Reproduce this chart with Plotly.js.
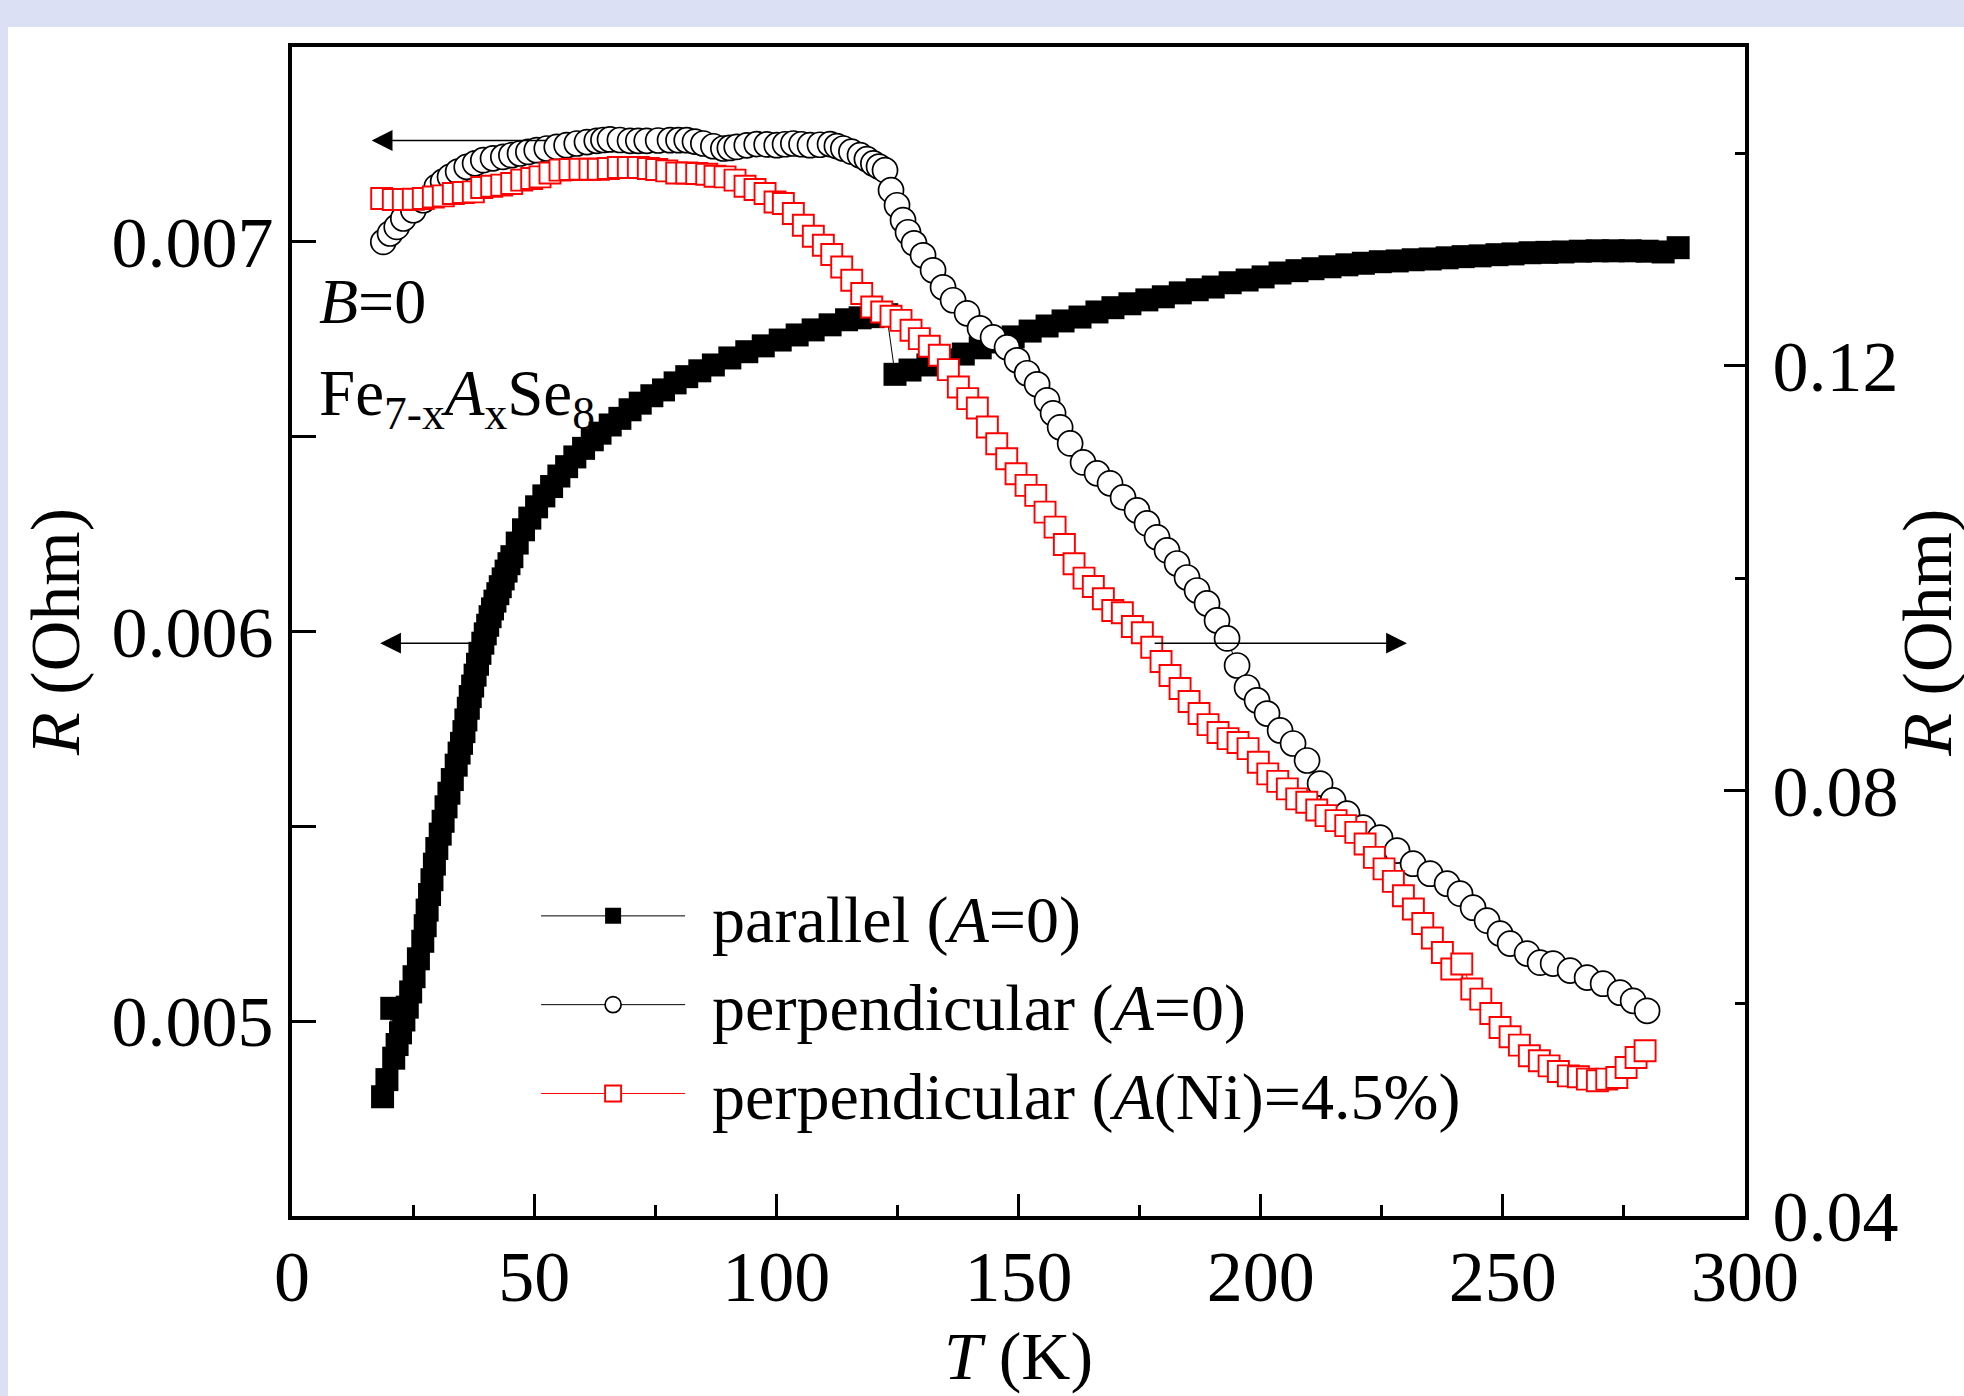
<!DOCTYPE html>
<html>
<head>
<meta charset="utf-8">
<script src="https://cdn.plot.ly/plotly-3.0.1.min.js"></script>
<style>
html,body{margin:0;padding:0;background:#dce0f4;width:1964px;height:1396px;overflow:hidden;}
#chart{position:absolute;left:8px;top:27px;width:1956px;height:1369px;background:#ffffff;}
</style>
</head>
<body>
<div id="chart"></div>
<script>
// ---- data ----
const seriesNames = ['parallel (<i>A</i>=0)', 'perpendicular (<i>A</i>=0)', 'perpendicular (<i>A</i>(Ni)=4.5%)'];

// parallel (A=0), left axis
const parT = [18.7,19.6,20.6,21.0,21.7,22.4,23.1,23.8,24.5,25.2,26.1,27.0,27.5,27.9,28.4,28.9,29.4,29.9,30.6,31.2,31.8,32.4,33.1,33.9,34.5,35.0,35.5,35.9,36.4,36.8,37.3,37.8,38.3,38.8,39.4,39.9,40.4,40.9,41.4,41.9,42.5,43.0,43.6,44.2,44.8,45.4,46.5,47.8,49.1,50.5,52.0,53.6,55.1,56.7,58.4,60.2,62.0,63.6,65.7,67.7,69.8,71.9,74.3,76.7,79.1,81.5,84.2,87.0,90.4,93.9,97.3,100.8,104.3,107.6,111.1,114.5,117.3,120.0,122.8,124.5,127.6,131.3,135.2,138.6,142.1,145.4,148.9,152.4,155.9,159.2,162.7,166.2,169.5,173.0,176.5,179.9,183.4,186.9,190.2,193.7,197.2,200.5,204.0,207.5,210.8,214.3,217.8,221.2,224.7,228.2,231.5,235.0,238.5,241.8,245.3,248.8,252.1,255.6,259.1,262.4,266.0,269.5,272.8,276.3,279.8,283.1,286.2];
const parR = [0.004806,0.004850,0.005033,0.004905,0.004940,0.004970,0.005003,0.005036,0.005075,0.005114,0.005160,0.005205,0.005245,0.005285,0.005325,0.005363,0.005403,0.005443,0.005480,0.005513,0.005550,0.005585,0.005620,0.005657,0.005688,0.005713,0.005743,0.005773,0.005803,0.005833,0.005860,0.005888,0.005916,0.005944,0.005970,0.005994,0.006016,0.006038,0.006058,0.006078,0.006097,0.006115,0.006135,0.006155,0.006174,0.006192,0.006227,0.006261,0.006291,0.006320,0.006348,0.006372,0.006399,0.006423,0.006448,0.006470,0.006492,0.006509,0.006530,0.006547,0.006569,0.006586,0.006605,0.006620,0.006638,0.006654,0.006669,0.006684,0.006702,0.006718,0.006733,0.006748,0.006761,0.006774,0.006787,0.006800,0.006805,0.006808,0.006813,0.006660,0.006671,0.006684,0.006697,0.006712,0.006728,0.006743,0.006756,0.006771,0.006784,0.006797,0.006807,0.006820,0.006831,0.006841,0.006851,0.006859,0.006869,0.006877,0.006884,0.006895,0.006902,0.006910,0.006920,0.006926,0.006931,0.006936,0.006941,0.006945,0.006949,0.006951,0.006954,0.006956,0.006959,0.006962,0.006964,0.006967,0.006969,0.006972,0.006973,0.006974,0.006976,0.006977,0.006977,0.006977,0.006976,0.006974,0.006985];

// perpendicular (A=0), right axis
const perpT = [18.85,20.24,21.62,22.98,25.05,27.11,29.88,31.2,32.62,34.3,36.07,37.8,39.5,41.5,43.63,45.3,47.08,48.8,50.53,52.6,54.66,56.7,58.79,60.9,62.92,64.3,65.66,67.7,69.79,71.5,73.24,75.6,78.05,79.8,81.5,83.2,84.93,87.0,89.06,90.4,91.82,93.9,95.95,98.0,100.08,101.8,103.51,105.2,106.96,109.0,111.09,112.5,113.83,115.5,117.28,118.7,120.03,121.2,122.44,123.68,124.92,126.16,127.19,128.43,130.29,132.36,134.42,136.49,139.38,142.06,144.75,147.64,149.71,151.77,153.84,155.9,157.14,158.6,160.66,163.33,166.22,168.9,171.59,174.48,176.54,178.61,180.67,182.74,184.8,186.87,188.93,190.99,193.06,195.13,197.19,199.26,201.32,204.01,206.69,209.58,212.27,214.95,217.84,221.15,224.65,228.17,231.47,234.98,238.49,241.17,243.86,246.75,249.43,251.5,255.01,257.69,260.38,263.89,267.4,270.7,274.21,276.9,279.79];
const perpR = [0.13166,0.13245,0.13307,0.13386,0.13464,0.13558,0.13684,0.13733,0.13778,0.13828,0.13872,0.13905,0.13935,0.13952,0.13966,0.13982,0.13998,0.14013,0.14029,0.14045,0.14060,0.14076,0.14092,0.14105,0.14117,0.14125,0.14130,0.14125,0.14117,0.14117,0.14117,0.14120,0.14123,0.14123,0.14123,0.14110,0.14092,0.14066,0.14045,0.14050,0.14060,0.14075,0.14086,0.14083,0.14076,0.14085,0.14092,0.14085,0.14076,0.14080,0.14086,0.14068,0.14045,0.14015,0.13982,0.13945,0.13904,0.13875,0.13841,0.13653,0.13511,0.13370,0.13257,0.13153,0.13040,0.12899,0.12739,0.12617,0.12494,0.12353,0.12268,0.12174,0.12052,0.11930,0.11826,0.11675,0.11553,0.11421,0.11270,0.11091,0.10988,0.10894,0.10762,0.10639,0.10517,0.10386,0.10263,0.10140,0.10008,0.09886,0.09764,0.09604,0.09435,0.09180,0.08973,0.08851,0.08728,0.08569,0.08446,0.08286,0.08069,0.07910,0.07786,0.07654,0.07560,0.07438,0.07315,0.07221,0.07127,0.07033,0.06901,0.06779,0.06657,0.06563,0.06469,0.06384,0.06375,0.06309,0.06243,0.06186,0.06101,0.06025,0.05931];

// perpendicular (A(Ni)=4.5%), right axis
const niT = [18.52,20.92,22.98,25.05,27.11,29.18,31.24,33.31,35.37,37.44,39.17,41.23,43.3,45.36,47.43,49.49,51.21,53.27,55.34,57.4,59.47,61.53,63.25,65.31,67.38,69.44,71.51,73.57,75.3,77.37,79.43,81.5,83.56,85.63,87.34,89.41,91.47,93.54,95.6,97.67,99.73,101.45,103.51,105.58,107.64,109.71,111.44,113.5,115.57,117.63,119.7,121.76,123.68,125.74,127.81,129.53,131.59,133.66,135.52,137.58,139.52,141.5,143.57,145.51,147.57,149.49,151.56,153.56,155.48,157.55,159.47,161.47,163.53,165.45,167.52,169.46,171.44,173.51,175.57,177.51,179.43,181.29,183.36,185.22,187.28,189.14,191.2,193.27,195.33,197.4,199.52,201.47,203.53,205.51,207.45,209.52,211.58,213.5,215.57,217.57,219.64,221.56,223.48,225.48,227.4,229.47,231.53,233.47,235.45,237.52,239.46,241.52,243.59,245.45,247.51,249.43,251.5,253.42,255.48,257.55,259.55,261.47,263.53,265.6,267.46,269.52,271.46,273.53,275.45,277.51,279.37];
const niR = [0.13574,0.13565,0.13565,0.13568,0.13574,0.13589,0.13599,0.13621,0.13631,0.13637,0.13678,0.13690,0.13700,0.13716,0.13747,0.13763,0.13778,0.13815,0.13841,0.13847,0.13850,0.13850,0.13850,0.13857,0.13866,0.13866,0.13866,0.13857,0.13847,0.13834,0.13815,0.13815,0.13810,0.13803,0.13784,0.13778,0.13747,0.13690,0.13659,0.13621,0.13542,0.13527,0.13433,0.13323,0.13219,0.13135,0.13047,0.12930,0.12805,0.12680,0.12554,0.12507,0.12466,0.12428,0.12334,0.12256,0.12184,0.12099,0.11964,0.11800,0.11691,0.11603,0.11424,0.11267,0.11126,0.10985,0.10875,0.10781,0.10623,0.10482,0.10319,0.10137,0.10002,0.09924,0.09808,0.09698,0.09676,0.09547,0.09488,0.09352,0.09218,0.09086,0.08963,0.08841,0.08728,0.08624,0.08549,0.08492,0.08455,0.08398,0.08269,0.08160,0.08090,0.08019,0.07925,0.07893,0.07821,0.07767,0.07720,0.07673,0.07610,0.07501,0.07375,0.07266,0.07149,0.07014,0.06889,0.06753,0.06616,0.06480,0.06324,0.06371,0.06136,0.06041,0.05906,0.05774,0.05686,0.05608,0.05508,0.05461,0.05413,0.05360,0.05319,0.05310,0.05288,0.05272,0.05288,0.05303,0.05397,0.05492,0.05555];

// axis settings
const xRange = [0, 300];
const yLeftRange = [0.0045, 0.0075];
const yRightRange = [0.04, 0.15];

// arrows: [head T, tail T, R on left axis]
const arrowHeadT = [16.45, 18.2, 230.2];
const arrowTailT = [53.0, 38.8, 177.8];
const arrowR = [0.007260, 0.005970, 0.005970];

const FONT = '"Liberation Serif", "Times New Roman", Times, serif';
const GAP = '\u2005\u200A';
const yTitle = '<i>R</i> (Ohm)';

const traces = [
  {
    x: parT, y: parR, name: GAP + seriesNames[0], type: 'scatter', mode: 'lines+markers',
    xaxis: 'x', yaxis: 'y',
    line: {color: '#000000', width: 1},
    marker: {symbol: 'square', size: 23, color: '#000000', line: {width: 0}}
  },
  {
    x: perpT, y: perpR, name: GAP + seriesNames[1], type: 'scatter', mode: 'lines+markers',
    xaxis: 'x', yaxis: 'y2',
    line: {color: '#000000', width: 1},
    marker: {symbol: 'circle', size: 25, color: '#ffffff', line: {color: '#000000', width: 1.7}}
  },
  {
    x: niT, y: niR, name: GAP + seriesNames[2], type: 'scatter', mode: 'lines+markers',
    xaxis: 'x', yaxis: 'y2',
    line: {color: '#ff0000', width: 1},
    marker: {symbol: 'square', size: 21, color: '#ffffff', line: {color: '#ff0000', width: 1.9}}
  }
];

const annotations = [
  {xref: 'paper', yref: 'paper', x: 0.0172, y: 0.782, xanchor: 'left', yanchor: 'middle',
   text: '<i>B</i>=0', showarrow: false, font: {family: FONT, size: 64, color: '#000'}},
  {xref: 'paper', yref: 'paper', x: 0.0172, y: 0.700, xanchor: 'left', yanchor: 'middle',
   text: 'Fe<sub>7-x</sub><i>A</i><sub>x</sub>Se<sub>8</sub>', showarrow: false, font: {family: FONT, size: 65, color: '#000'}},
  // right-hand axis title (reference places it at the very right edge)
  {xref: 'paper', yref: 'paper', x: 1.125, y: 0.4987, xanchor: 'center', yanchor: 'middle',
   textangle: -90, text: yTitle, showarrow: false, font: {family: FONT, size: 70, color: '#000'}}
];
for (let i = 0; i < arrowHeadT.length; i++) {
  annotations.push({
    xref: 'x', yref: 'y', axref: 'x', ayref: 'y',
    x: arrowHeadT[i], y: arrowR[i], ax: arrowTailT[i], ay: arrowR[i],
    text: '', showarrow: true, arrowhead: 2, arrowsize: 2.6, arrowwidth: 1.6,
    arrowcolor: '#000000', standoff: 0, startstandoff: 0
  });
}

const axisCommon = {
  showgrid: false, zeroline: false, showline: true, linecolor: '#000000', linewidth: 4,
  ticks: 'inside', tickcolor: '#000000', tickwidth: 3,
  tickfont: {family: FONT, size: 72, color: '#000'}
};

const layout = {
  width: 1956, height: 1369,
  margin: {l: 284, r: 219, t: 20, b: 180, pad: 0},
  paper_bgcolor: '#ffffff', plot_bgcolor: '#ffffff',
  font: {family: FONT, size: 68, color: '#000'},
  showlegend: true,
  legend: {
    x: 0.168, y: 0.299, xanchor: 'left', yanchor: 'top',
    bgcolor: 'rgba(0,0,0,0)', borderwidth: 0,
    font: {family: FONT, size: 66, color: '#000'},
    itemwidth: 144, itemsizing: 'trace', tracegroupgap: 0
  },
  xaxis: Object.assign({}, axisCommon, {
    range: xRange, tick0: 0, dtick: 50, ticklen: 22, mirror: true, ticklabelstandoff: -5,
    minor: {dtick: 25, ticks: 'inside', ticklen: 11, tickwidth: 3, tickcolor: '#000', showgrid: false},
    title: {text: '<i>T</i> (K)', font: {family: FONT, size: 68, color: '#000'}, standoff: 16}
  }),
  yaxis: Object.assign({}, axisCommon, {
    range: yLeftRange, tick0: 0, dtick: 0.001, ticklen: 24, mirror: false,
    minor: {dtick: 0.0005, ticks: 'inside', ticklen: 24, tickwidth: 3, tickcolor: '#000', showgrid: false},
    title: {text: yTitle, font: {family: FONT, size: 70, color: '#000'}, standoff: 10}
  }),
  yaxis2: Object.assign({}, axisCommon, {
    overlaying: 'y', side: 'right', anchor: 'x',
    range: yRightRange, tick0: 0, dtick: 0.04, ticklen: 21, ticklabelstandoff: 9,
    minor: {dtick: 0.02, ticks: 'inside', ticklen: 10, tickwidth: 3, tickcolor: '#000', showgrid: false}
  }),
  annotations: annotations
};

Plotly.newPlot('chart', traces, layout, {displayModeBar: false, staticPlot: true});
</script>
</body>
</html>
